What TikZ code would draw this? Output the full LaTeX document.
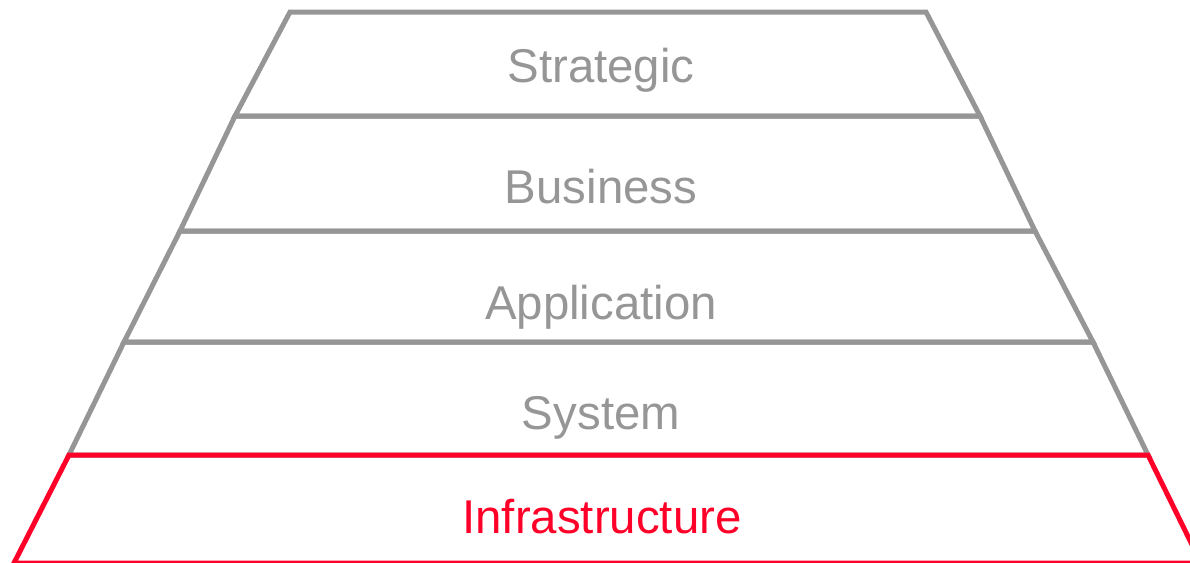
\documentclass[tikz,border=0pt]{standalone}
\usepackage{fontspec}
\setmainfont{Liberation Sans}
\definecolor{layergray}{RGB}{150,150,150}
\definecolor{layerred}{RGB}{255,0,40}
\begin{document}
\begin{tikzpicture}[x=1pt,y=-1pt,
  layer/.style={draw=layergray,line width=5pt,line join=miter},
  redlayer/.style={draw=layerred,line width=5pt,line join=miter},
  lbl/.style={anchor=base,inner sep=0pt,font=\fontsize{47.4}{50}\selectfont,text=layergray},
  redlbl/.style={lbl,text=layerred}]
\useasboundingbox (0,0) rectangle (1190,562);
\coordinate (l0) at (290,12);   \coordinate (r0) at (926,12);
\coordinate (l1) at (235,116);  \coordinate (r1) at (980,116);
\coordinate (l2) at (180,231);  \coordinate (r2) at (1035,231);
\coordinate (l3) at (124,342);  \coordinate (r3) at (1093,342);
\coordinate (l4) at (69,455);   \coordinate (r4) at (1148,455);
\coordinate (l5) at (14,563);   \coordinate (r5) at (1201,563);
\draw[layer] (l0) -- (r0) -- (r1) -- (l1) -- cycle;
\draw[layer] (l1) -- (r1) -- (r2) -- (l2) -- cycle;
\draw[layer] (l2) -- (r2) -- (r3) -- (l3) -- cycle;
\draw[layer] (l3) -- (r3) -- (r4) -- (l4) -- cycle;
\draw[redlayer] (l4) -- (r4) -- (r5) -- (l5) -- cycle;
\node[lbl] (strategic) at (601,82) {Strategic};
\node[lbl] (business) at (601,203) {Business};
\node[lbl] (application) at (601,319) {Application};
\node[lbl] (system) at (601,429) {System};
\node[redlbl] (infra) at (602,533) {Infrastructure};
\end{tikzpicture}
\end{document}
